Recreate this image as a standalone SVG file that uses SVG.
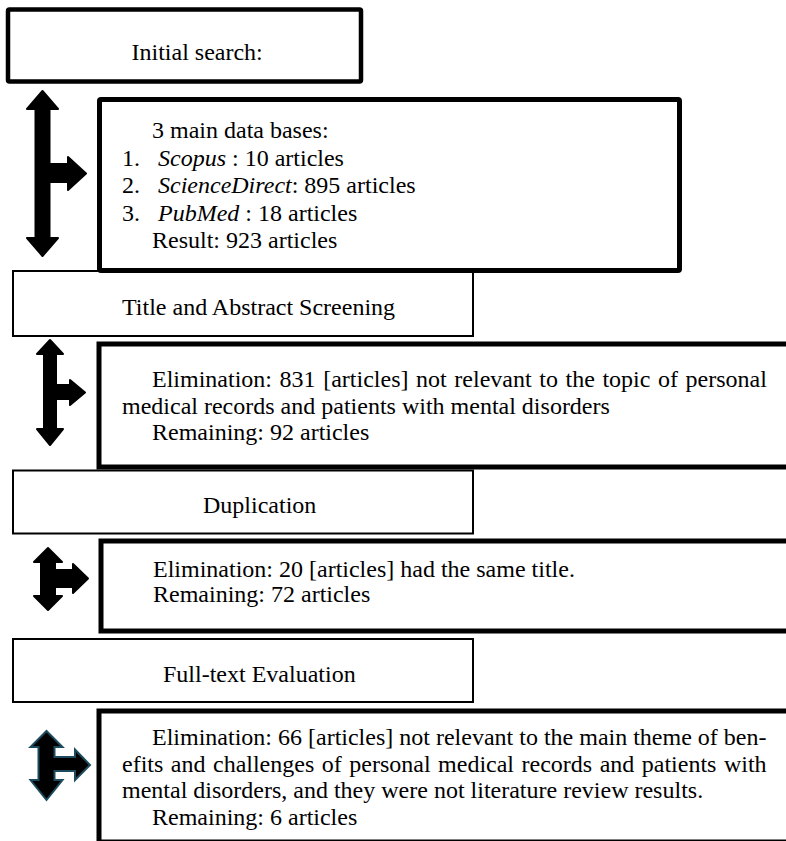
<svg xmlns="http://www.w3.org/2000/svg" width="786" height="841" viewBox="0 0 786 841">
<style>
  text { font-family: "Liberation Serif", "Times New Roman", serif; font-size: 24px; fill: #000; }
  .it { font-style: italic; }
  .thick { fill: #fff; stroke: #000; stroke-width: 5; }
  .thin { fill: #fff; stroke: #000; stroke-width: 2; }
  .arr { fill: #000; stroke: #000; stroke-width: 2; stroke-linejoin: round; }
  .arr2 { fill: #000; stroke: #1d4b5e; stroke-width: 2; stroke-linejoin: miter; }
</style>
<rect width="786" height="841" fill="#fff"/>

<g id="initial-search">
  <rect class="thick" x="8" y="9.5" width="353" height="72" rx="1.5" style="stroke-width:4.5"/>
  <text x="131.5" y="59.5">Initial search:</text>
</g>

<g id="title-abstract">
  <rect class="thin" x="13" y="271" width="460" height="65"/>
  <text x="122" y="315">Title and Abstract Screening</text>
</g>

<g id="databases">
  <rect class="thick" x="99.5" y="99.5" width="580" height="171" rx="1.5"/>
  <text x="152" y="138">3 main data bases:</text>
  <text x="122" y="165.5">1.</text><text x="158" y="165.5"><tspan class="it">Scopus</tspan> : 10 articles</text>
  <text x="122" y="193">2.</text><text x="158" y="193"><tspan class="it">ScienceDirect</tspan>: 895 articles</text>
  <text x="122" y="220.5">3.</text><text x="158" y="220.5"><tspan class="it">PubMed</tspan> : 18 articles</text>
  <text x="152" y="248">Result: 923 articles</text>
</g>

<g id="elimination-831">
  <rect class="thick" x="99" y="344" width="720" height="123"/>
  <text x="152" y="386.5" word-spacing="1.6">Elimination: 831 [articles] not relevant to the topic of personal</text>
  <text x="122" y="413.5">medical records and patients with mental disorders</text>
  <text x="152" y="440">Remaining: 92 articles</text>
</g>

<g id="duplication">
  <rect class="thin" x="13" y="470.5" width="460" height="63"/>
  <text x="203" y="512.5">Duplication</text>
</g>

<g id="elimination-20">
  <rect class="thick" x="101" y="541" width="720" height="90"/>
  <text x="153" y="577">Elimination: 20 [articles] had the same title.</text>
  <text x="153" y="602">Remaining: 72 articles</text>
</g>

<g id="full-text">
  <rect class="thin" x="13" y="639" width="460" height="63"/>
  <text x="163" y="681.5">Full-text Evaluation</text>
</g>

<g id="elimination-66">
  <rect class="thick" x="99" y="711" width="720" height="131"/>
  <text x="152" y="745">Elimination: 66 [articles] not relevant to the main theme of ben-</text>
  <text x="122" y="771.5" word-spacing="1.5">efits and challenges of personal medical records and patients with</text>
  <text x="122" y="798">mental disorders, and they were not literature review results.</text>
  <text x="152" y="825">Remaining: 6 articles</text>
</g>

<g id="connectors">
  <polygon class="arr" points="42.5,91 58,109 49.5,109 49.5,164 68,164 68,157 86,173.5 68,190 68,182 49.5,182 49.5,238 58,238 42.5,256 27,238 35.5,238 35.5,109 27,109"/>
  <polygon class="arr" points="50,340 63,354 56,354 56,385 70,385 70,380 85,392.5 70,405 70,399 56,399 56,429 63,429 50,445 37,429 44,429 44,354 37,354"/>
  <polygon class="arr" points="48,548 62,562 55,562 55,570 73,570 73,564 88,578.5 73,593 73,587 55,587 55,596 62,596 48,610 34,596 41,596 41,562 34,562"/>
  <polygon class="arr2" points="46.5,731 62.5,747 54.5,747 54.5,757 75,757 75,749.5 90,765 75,780 75,771 54.5,771 54.5,780 62.5,780 46.5,800 30.5,780 38.5,780 38.5,747 30.5,747"/>
</g>
</svg>
